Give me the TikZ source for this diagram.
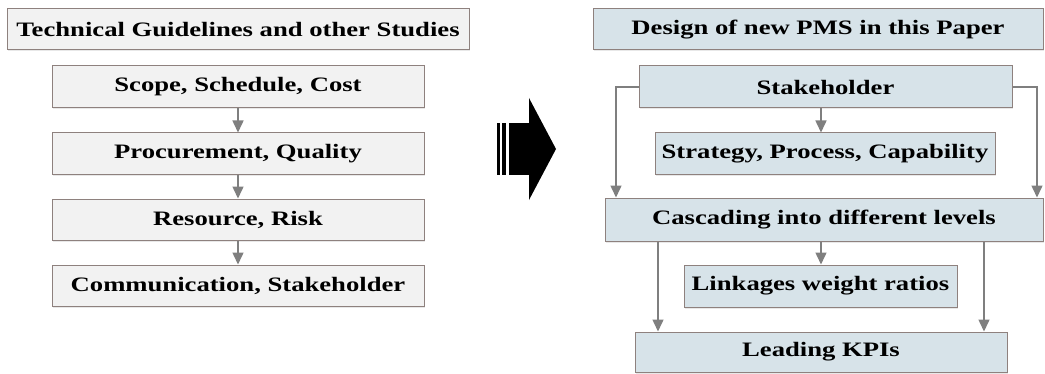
\documentclass[tikz,border=0pt]{standalone}
\usepackage{fontspec}
\setmainfont{Liberation Serif}[FakeStretch=1.3]
\usetikzlibrary{arrows.meta,shadows}

\definecolor{boxline}{HTML}{8E817E}
\definecolor{greyfill}{HTML}{F2F2F2}
\definecolor{bluefill}{HTML}{D7E3E9}
\definecolor{arrgrey}{HTML}{7F7F7F}

\tikzset{
  box/.style={draw=boxline,line width=1pt,inner sep=0pt,
    font=\fontsize{20.5}{23}\selectfont\bfseries,
    drop shadow={opacity=0.18,shadow xshift=1.2pt,shadow yshift=-1.5pt}},
  greybox/.style={box,fill=greyfill},
  bluebox/.style={box,fill=bluefill},
  arr/.style={draw=arrgrey,line width=1.5pt,-{Triangle[width=11pt,length=12pt]}}
}

\begin{document}
\begin{tikzpicture}[x=1pt,y=1pt]
            \useasboundingbox (0,0) rectangle (1045,373);
            % left column
            \node[greybox,minimum width=462,minimum height=41] (lhead) at (238,343.5) {Technical Guidelines and other Studies};
            \node[greybox,minimum width=372,minimum height=42] (scope) at (238,286) {Scope, Schedule, Cost};
            \node[greybox,minimum width=372,minimum height=41] (procure) at (238,219.5) {Procurement, Quality};
            \node[greybox,minimum width=372,minimum height=41] (resource) at (238,153.5) {Resource, Risk};
            \node[greybox,minimum width=372,minimum height=41] (comm) at (238,87.5) {Communication, Stakeholder};
            \draw[arr] (scope) -- (procure);
            \draw[arr] (procure) -- (resource);
            \draw[arr] (resource) -- (comm);
            % big arrow
            \fill (508.5,250) rectangle (529,198);
            \fill (529,275) -- (556,224) -- (529,173) -- cycle;
            \fill (497,250) rectangle (499.5,198);
            \fill (501.5,250) rectangle (506,198);
            % right column
            \node[bluebox,minimum width=450,minimum height=41] (rhead) at (818,343.5) {Design of new PMS in this Paper};
            \node[bluebox,minimum width=373,minimum height=42] (stake) at (825.5,286) {Stakeholder};
            \node[bluebox,minimum width=340,minimum height=41] (strat) at (825,219.5) {Strategy, Process, Capability};
            \node[bluebox,minimum width=438,minimum height=43] (cascade) at (824,153.5) {Cascading into different levels};
            \node[bluebox,minimum width=273,minimum height=42] (link) at (820.5,87) {Linkages weight ratios};
            \node[bluebox,minimum width=372,minimum height=40] (kpi) at (821,21) {Leading KPIs};
            \coordinate (sl) at (616,286);
            \coordinate (sr) at (1037,286);
            \draw[arr] ([xshift=-4.5pt]stake.south) -- ([xshift=-4.5pt]stake.south |- strat.north);
            \draw[arr] (stake.west) -- (sl) -- (sl |- cascade.north);
            \draw[arr] (stake.east) -- (sr) -- (sr |- cascade.north);
            \draw[arr] ([xshift=-3pt]cascade.south) -- ([xshift=-3pt]cascade.south |- link.north);
            \draw[arr] ([xshift=-166pt]cascade.south) -- ([xshift=-166pt]cascade.south |- kpi.north);
            \draw[arr] ([xshift=160pt]cascade.south) -- ([xshift=160pt]cascade.south |- kpi.north);
        \end{tikzpicture}
\end{document}
